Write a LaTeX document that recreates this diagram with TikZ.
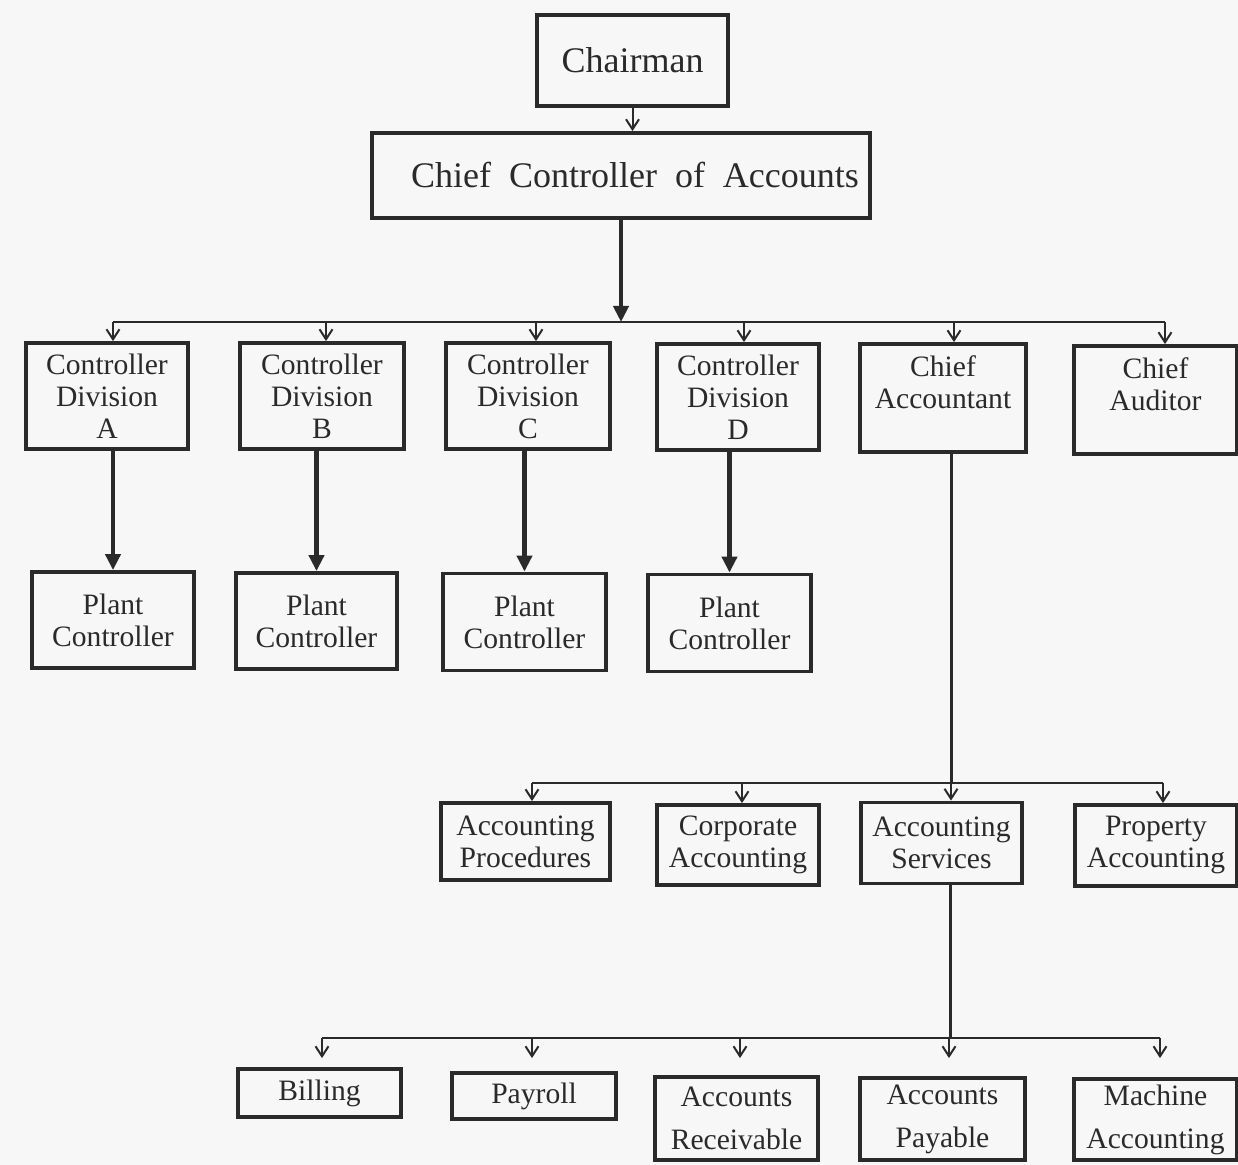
\documentclass[tikz,border=0pt]{standalone}
\usepackage{fontspec}
\setmainfont{Liberation Serif}
\usetikzlibrary{arrows.meta}
\definecolor{ink}{HTML}{2A2A2A}
\definecolor{paper}{HTML}{F7F7F7}

\begin{document}
\begin{tikzpicture}[x=0.5pt,y=-0.5pt,
  box/.style={draw=ink, line width=1.9pt, text=ink, align=center, inner sep=0pt,
              font=\fontsize{14.8}{16}\selectfont},
  bigbox/.style={box, font=\fontsize{18}{20}\selectfont},
  thinarrow/.style={draw=ink, line width=1pt, -{Straight Barb[length=5pt,width=6.5pt]}},
  thickarrow/.style={draw=ink, line width=2.2pt, -{Triangle[length=8pt,width=7.5pt]}},
  busline/.style={draw=ink, line width=1.3pt},
  trunk/.style={draw=ink, line width=1.5pt},
]
% page
\fill[paper] (0,0) rectangle (1238,1165);
\useasboundingbox (0,0) rectangle (1238,1165);

% top of the hierarchy
\node[bigbox, minimum width=95.5pt, minimum height=45.5pt] (chair) at (632.5,60.5) {Chairman};
\node[bigbox, minimum width=249pt, minimum height=42.5pt] (cca) at (621,175.5)
  {\hspace*{14pt}Chief~ Controller~ of~ Accounts};

% second level
\node[box, minimum width=81pt, minimum height=53pt] (dA) at (107,396) {Controller\\Division\\A};
\node[box, minimum width=82pt, minimum height=53pt] (dB) at (322,396) {Controller\\Division\\B};
\node[box, minimum width=82pt, minimum height=53pt] (dC) at (528,396) {Controller\\Division\\C};
\node[box, minimum width=81pt, minimum height=53pt] (dD) at (738,397) {Controller\\Division\\D};
\node[box, minimum width=83pt, minimum height=54pt] (ca) at (943,398) {Chief\\Accountant\\\mbox{}};
\node[box, minimum width=81.5pt, minimum height=54pt] (aud) at (1155.5,400) {Chief\\Auditor\\\mbox{}};

% plant controllers
\node[box, minimum width=81pt, minimum height=48pt] (pA) at (113,620) {Plant\\Controller};
\node[box, minimum width=80.5pt, minimum height=48pt] (pB) at (316.5,621) {Plant\\Controller};
\node[box, minimum width=81.5pt, minimum height=48.5pt] (pC) at (524.5,622) {Plant\\Controller};
\node[box, minimum width=81.5pt, minimum height=48.5pt] (pD) at (729.5,623) {Plant\\Controller};

% sections under the chief accountant
\node[box, minimum width=84.5pt, minimum height=38.5pt] (apr) at (525.5,841.5) {Accounting\\Procedures};
\node[box, minimum width=81pt, minimum height=40pt] (corp) at (738,845) {Corporate\\Accounting};
\node[box, minimum width=80.5pt, minimum height=40.5pt] (asv) at (941.5,843) {Accounting\\Services};
\node[box, minimum width=81pt, minimum height=40.5pt] (prop) at (1156,845.5) {Property\\Accounting};

% units under accounting services
\node[box, minimum width=81.5pt, minimum height=24pt] (bill) at (319.5,1093) {Billing};
\node[box, minimum width=82pt, minimum height=23pt] (pay) at (534,1096) {Payroll};
\node[box, minimum width=81.5pt, minimum height=41.5pt] (ar) at (736.5,1118.5) {Accounts\\[5.5pt]Receivable};
\node[box, minimum width=82.5pt, minimum height=41pt] (ap) at (942.5,1119) {Accounts\\[5.5pt]Payable};
\node[box, minimum width=81.5pt, minimum height=40.5pt] (ma) at (1155.5,1119.5) {Machine\\[5.5pt]Accounting};

% bus levels
\coordinate (busTop) at (0,322);
\coordinate (busMid) at (0,783);
\coordinate (busLow) at (0,1038);

% chairman -> chief controller
\draw[thinarrow] (chair.south) -- (chair.south |- cca.north);

% chief controller -> second level
\draw[thickarrow] (cca.south) -- (cca.south |- busTop);
\draw[busline] ([xshift=3pt]dA.north |- busTop) -- ([xshift=4.75pt]aud.north |- busTop);
\foreach \n/\s in {dA/3pt, dB/2pt, dC/4pt, dD/3pt, ca/5.5pt, aud/4.75pt}
  \draw[thinarrow] ([xshift=\s]\n.north |- busTop) -- ([xshift=\s]\n.north);

% divisions -> plant controllers
\foreach \d/\p in {dA/pA, dB/pB, dC/pC, dD/pD}
  \draw[thickarrow] (\p.north |- \d.south) -- (\p.north);

% chief accountant -> sections
\draw[trunk] ([xshift=4pt]ca.south) -- ([xshift=4pt]ca.south |- busMid);
\draw[busline] ([xshift=3.25pt]apr.north |- busMid) -- ([xshift=3.5pt]prop.north |- busMid);
\foreach \n/\s in {apr/3.25pt, corp/2pt, asv/4.75pt, prop/3.5pt}
  \draw[thinarrow] ([xshift=\s]\n.north |- busMid) -- ([xshift=\s]\n.north);

% accounting services -> units
\draw[trunk] ([xshift=4.25pt]asv.south) -- ([xshift=4.25pt]asv.south |- busLow);
\draw[busline] ([xshift=1.25pt]bill.north |- busLow) -- ([xshift=2.25pt]ma.north |- busLow);
\foreach \n/\s/\g in {bill/1.25pt/4.5pt, pay/-1pt/6.5pt, ar/1.75pt/8.5pt, ap/3.25pt/9pt, ma/2.25pt/9.5pt}
  \draw[thinarrow, shorten >=\g] ([xshift=\s]\n.north |- busLow) -- ([xshift=\s]\n.north);
\end{tikzpicture}
\end{document}
